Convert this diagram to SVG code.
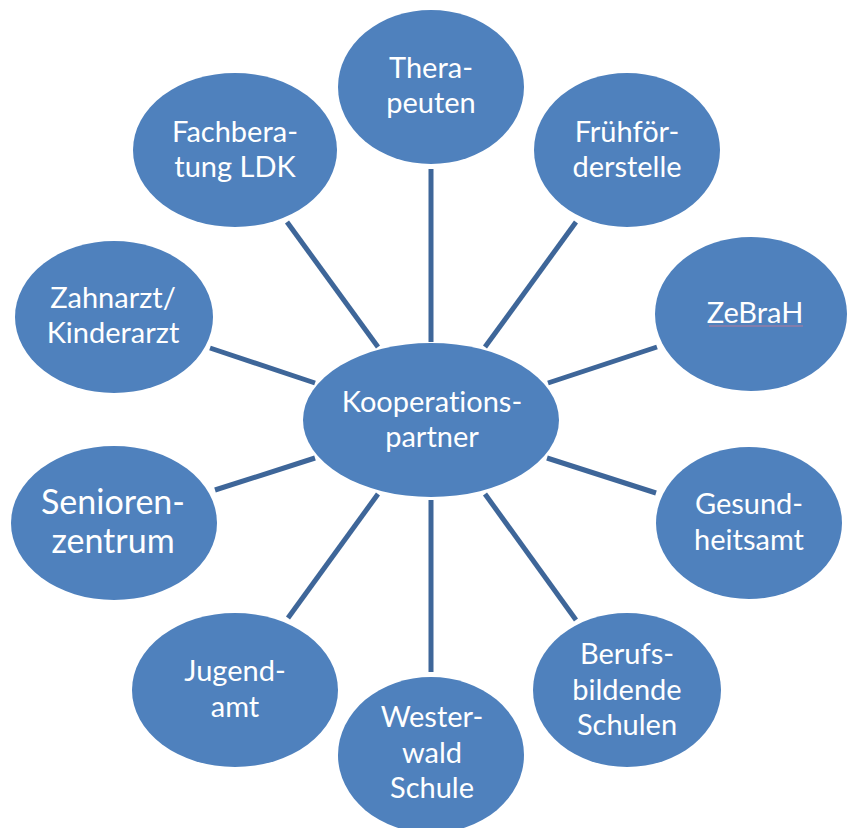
<svg xmlns="http://www.w3.org/2000/svg" width="847" height="828" viewBox="0 0 847 828">
<style>
.n{fill:#4f81bd}
.t{fill:#ffffff;font-family:Lato,"Open Sans","Liberation Sans",sans-serif;font-size:29px;text-anchor:middle;font-variant-ligatures:none;font-feature-settings:"liga" 0}
.big{font-size:34px}
#connectors line{stroke:#3e6699;stroke-width:5}
</style>
<rect width="847" height="828" fill="#ffffff"/>
<g id="connectors">
<line x1="431" y1="169" x2="431" y2="342"/>
<line x1="287" y1="222" x2="378" y2="347"/>
<line x1="576" y1="222" x2="485" y2="347"/>
<line x1="210" y1="348" x2="315" y2="383"/>
<line x1="657" y1="347" x2="548" y2="383"/>
<line x1="215" y1="490" x2="315" y2="458"/>
<line x1="656" y1="493" x2="547" y2="458"/>
<line x1="288" y1="618" x2="378" y2="494"/>
<line x1="576" y1="620" x2="485" y2="494"/>
<line x1="431" y1="500" x2="431" y2="672"/>
</g>
<g id="center">
<ellipse class="n" cx="431" cy="420" rx="128" ry="77"/>
<text class="t" x="432" y="412">Kooperations-</text>
<text class="t" x="432" y="447">partner</text>
</g>
<g id="therapeuten">
<ellipse class="n" cx="431" cy="87" rx="93" ry="77"/>
<text class="t" x="431" y="78">Thera-</text>
<text class="t" x="431" y="113">peuten</text>
</g>
<g id="fachberatung">
<ellipse class="n" cx="235" cy="150" rx="102" ry="77"/>
<text class="t" x="235" y="142">Fachbera-</text>
<text class="t" x="235" y="177">tung LDK</text>
</g>
<g id="fruehfoerderstelle">
<ellipse class="n" cx="627" cy="150" rx="93" ry="77"/>
<text class="t" x="627" y="142">Frühför-</text>
<text class="t" x="627" y="177">derstelle</text>
</g>
<g id="zebrah">
<ellipse class="n" cx="751" cy="314" rx="96" ry="77"/>
<text class="t" x="755" y="323">ZeBraH</text>
<line x1="709" y1="326" x2="803" y2="326" stroke="#b77a9a" stroke-width="1"/>
</g>
<g id="zahnarzt">
<ellipse class="n" cx="114" cy="317" rx="99" ry="76"/>
<text class="t" x="113" y="308">Zahnarzt/</text>
<text class="t" x="113" y="343">Kinderarzt</text>
</g>
<g id="seniorenzentrum">
<ellipse class="n" cx="114" cy="523" rx="103" ry="77"/>
<text class="t big" x="113" y="514">Senioren-</text>
<text class="t big" x="113" y="553">zentrum</text>
</g>
<g id="gesundheitsamt">
<ellipse class="n" cx="749" cy="523" rx="93" ry="76"/>
<text class="t" x="749" y="514">Gesund-</text>
<text class="t" x="749" y="550">heitsamt</text>
</g>
<g id="berufsbildende">
<ellipse class="n" cx="627" cy="690" rx="94" ry="77"/>
<text class="t" x="627" y="664">Berufs-</text>
<text class="t" x="627" y="700">bildende</text>
<text class="t" x="627" y="735">Schulen</text>
</g>
<g id="jugendamt">
<ellipse class="n" cx="235" cy="690" rx="103" ry="77"/>
<text class="t" x="235" y="681">Jugend-</text>
<text class="t" x="235" y="717">amt</text>
</g>
<g id="westerwald">
<ellipse class="n" cx="431" cy="755" rx="93" ry="78"/>
<text class="t" x="432" y="727">Wester-</text>
<text class="t" x="432" y="763">wald</text>
<text class="t" x="432" y="798">Schule</text>
</g>
</svg>
